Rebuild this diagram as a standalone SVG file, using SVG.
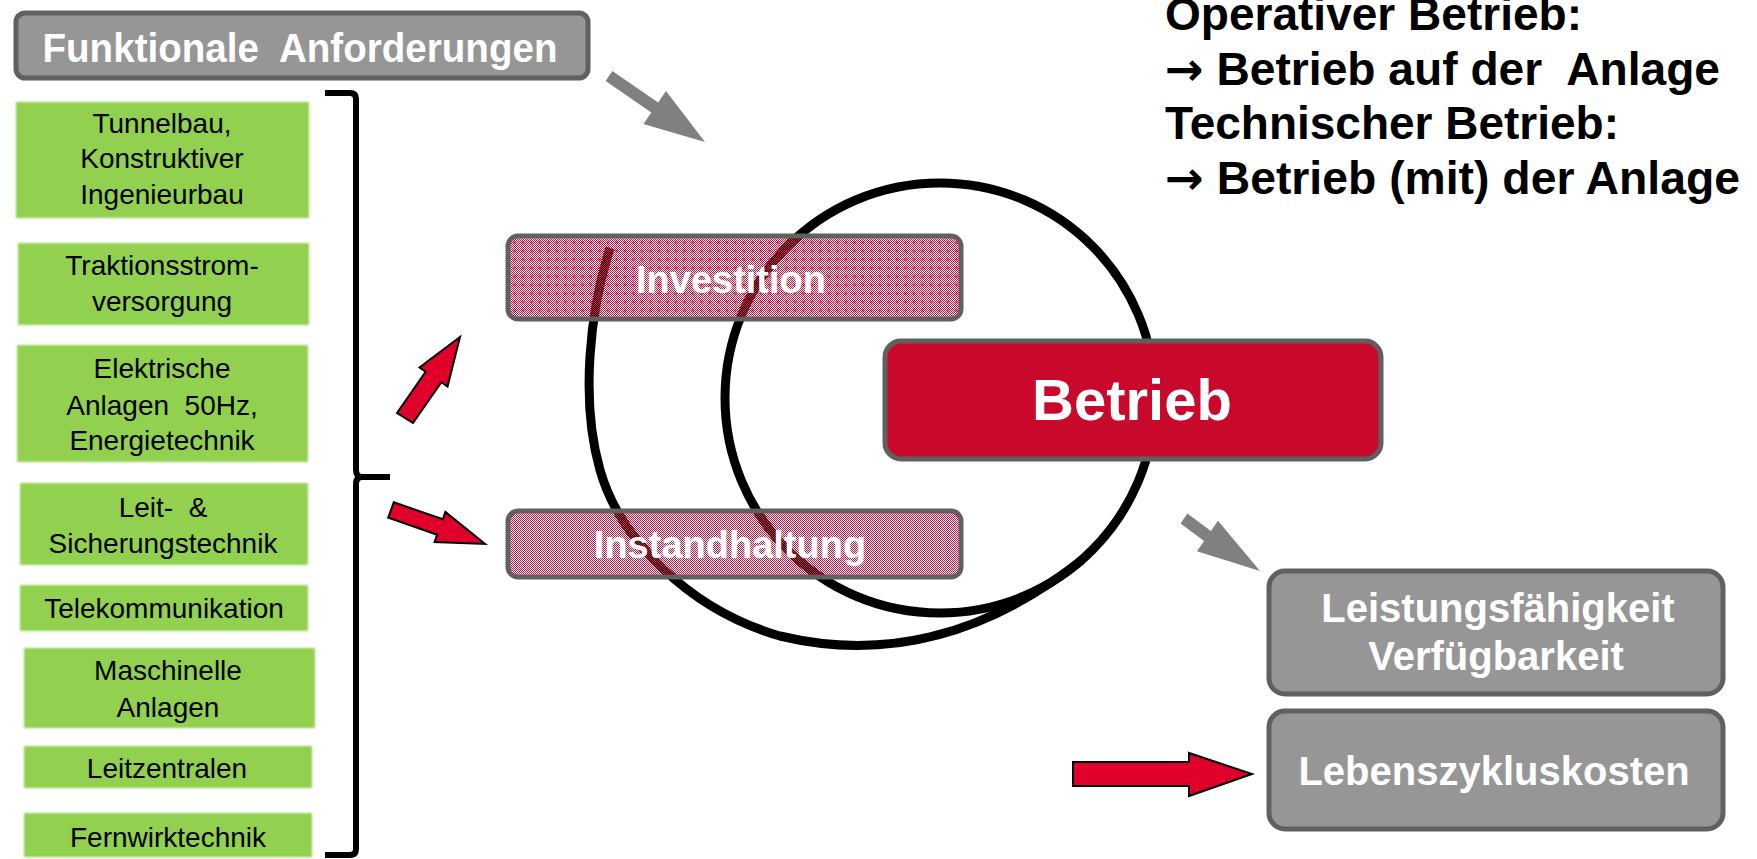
<svg xmlns="http://www.w3.org/2000/svg" width="1757" height="859" viewBox="0 0 1757 859">
<style>
.gbox{fill:#92d050;filter:url(#soft)}
.gt{font-family:"Liberation Sans",Arial,sans-serif;font-size:28px;fill:#000;text-anchor:middle}
.wt{font-family:"Liberation Sans",Arial,sans-serif;font-weight:bold;fill:#fff;text-anchor:middle}
.bt{font-family:"Liberation Sans",Arial,sans-serif;font-weight:bold;font-size:46px;fill:#000}
.ar{font-family:"DejaVu Sans",sans-serif;font-weight:bold}
.grey{fill:#969696;stroke:#606060;stroke-width:5}
.pk{stroke:#606060;stroke-width:5}
.ring{fill:none;stroke:#000;stroke-width:9}
.red{fill:#e0002a;stroke:#000;stroke-width:2;stroke-linejoin:miter}
.garr{fill:#808080}
</style>
<defs>
<filter id="soft" x="-5%" y="-10%" width="110%" height="120%"><feGaussianBlur stdDeviation="1.3"/></filter>
<pattern id="chk" width="2" height="2" patternUnits="userSpaceOnUse">
<rect x="0" y="0" width="1" height="1" fill="#d0103a"/>
<rect x="1" y="1" width="1" height="1" fill="#d0103a"/>
</pattern>
<pattern id="dots" width="8.5" height="8.5" patternUnits="userSpaceOnUse">
<rect x="3" y="4" width="3" height="1" fill="#d0103a"/>
<rect x="4" y="3" width="1" height="3" fill="#d0103a"/>
</pattern>
</defs>

<!-- connectors -->
<g id="connectors">
<path class="ring" d="M940,183 C1060,183 1155,280 1155,398 C1155,516 1060,613 940,613 C820,613 725,516 725,398 C725,280 820,183 940,183 Z"/>
<path class="ring" d="M610,248 C590,310 580,400 600,470 C620,540 690,610 780,636 C880,660 980,640 1082,560"/>
<polygon class="garr" points="612.4,71.1 658.1,102.6 666,91 705,142 643.4,124 651.3,112.4 605.6,80.9"/>
<polygon class="garr" points="1187.4,513.6 1210.9,531.1 1218,520.8 1260,571 1197,551.2 1204.1,540.9 1180.6,523.4"/>
<polygon class="red" points="397,413 425.6,371.7 419.5,367.5 460,337 447.5,386.5 441.4,382.3 413,423"/>
<polygon class="red" points="393.8,502.3 442.8,519.3 445.4,512 485,544 434.6,542 437.2,534.7 388.2,517.7"/>
<polygon class="red" points="1073,762 1189,762 1189,753 1252,774 1189,796 1189,786 1073,786"/>
<path d="M325,93 L350,93 Q356,93 356,99 L356,470 Q356,477 362,477 L390,477 M362,477 Q356,477 356,484 L356,849 Q356,855 350,855 L325,855" fill="none" stroke="#000" stroke-width="6"/>
</g>

<g id="funktionale">
<rect x="16" y="13" width="572" height="65" rx="9" class="grey" stroke-width="4"/>
<text x="300" y="62" class="wt" font-size="40" textLength="515" lengthAdjust="spacingAndGlyphs" xml:space="preserve">Funktionale  Anforderungen</text>
</g>

<g id="box-tunnelbau">
<rect x="16" y="102" width="293" height="116" class="gbox"/>
<text class="gt" x="162" y="133">Tunnelbau,</text>
<text class="gt" x="162" y="168">Konstruktiver</text>
<text class="gt" x="162" y="204">Ingenieurbau</text>
</g>
<g id="box-traktion">
<rect x="18" y="243" width="291" height="82" class="gbox"/>
<text class="gt" x="162" y="275">Traktionsstrom-</text>
<text class="gt" x="162" y="311">versorgung</text>
</g>
<g id="box-elektrisch">
<rect x="17" y="345" width="291" height="117" class="gbox"/>
<text class="gt" x="162" y="378">Elektrische</text>
<text class="gt" x="162" y="415" xml:space="preserve">Anlagen  50Hz,</text>
<text class="gt" x="162" y="450">Energietechnik</text>
</g>
<g id="box-leit">
<rect x="20" y="483" width="288" height="82" class="gbox"/>
<text class="gt" x="163" y="517" xml:space="preserve">Leit-  &amp;</text>
<text class="gt" x="163" y="553">Sicherungstechnik</text>
</g>
<g id="box-telekom">
<rect x="20" y="585" width="288" height="46" class="gbox"/>
<text class="gt" x="164" y="618">Telekommunikation</text>
</g>
<g id="box-maschinell">
<rect x="24" y="648" width="291" height="80" class="gbox"/>
<text class="gt" x="168" y="680">Maschinelle</text>
<text class="gt" x="168" y="717">Anlagen</text>
</g>
<g id="box-leitzentralen">
<rect x="24" y="746" width="288" height="42" class="gbox"/>
<text class="gt" x="167" y="778">Leitzentralen</text>
</g>
<g id="box-fernwirk">
<rect x="24" y="813" width="288" height="44" class="gbox"/>
<text class="gt" x="168" y="847">Fernwirktechnik</text>
</g>

<g id="investition">
<rect x="508" y="236" width="453" height="83" rx="10" fill="url(#chk)"/>
<rect x="508" y="236" width="453" height="83" rx="10" fill="url(#dots)"/>
<rect x="508" y="236" width="453" height="83" rx="10" fill="none" class="pk"/>
<text x="731" y="293" class="wt" font-size="38">Investition</text>
</g>

<g id="instandhaltung">
<rect x="508" y="511" width="453" height="66" rx="10" fill="url(#chk)"/>
<rect x="508" y="511" width="453" height="66" rx="10" fill="none" class="pk"/>
<text x="730" y="558" class="wt" font-size="38">Instandhaltung</text>
</g>

<g id="betrieb">
<rect x="885" y="341" width="496" height="118" rx="16" fill="#c8092b" class="pk"/>
<text x="1132" y="420" class="wt" font-size="58">Betrieb</text>
</g>

<g id="leistung">
<rect x="1269" y="571" width="454" height="123" rx="16" class="grey"/>
<text x="1498" y="622" class="wt" font-size="40">Leistungsfähigkeit</text>
<text x="1496" y="670" class="wt" font-size="40">Verfügbarkeit</text>
</g>

<g id="lebenszyklus">
<rect x="1269" y="711" width="454" height="118" rx="16" class="grey"/>
<text x="1494" y="785" class="wt" font-size="40">Lebenszykluskosten</text>
</g>

<g id="betriebsarten">
<text class="bt" x="1165" y="30" textLength="417" lengthAdjust="spacingAndGlyphs">Operativer Betrieb:</text>
<text class="bt" x="1165" y="85" textLength="555" lengthAdjust="spacingAndGlyphs" xml:space="preserve"><tspan class="ar">→</tspan> Betrieb auf der  Anlage</text>
<text class="bt" x="1165" y="139" textLength="454" lengthAdjust="spacingAndGlyphs">Technischer Betrieb:</text>
<text class="bt" x="1165" y="194" textLength="575" lengthAdjust="spacingAndGlyphs"><tspan class="ar">→</tspan> Betrieb (mit) der Anlage</text>
</g>
</svg>
